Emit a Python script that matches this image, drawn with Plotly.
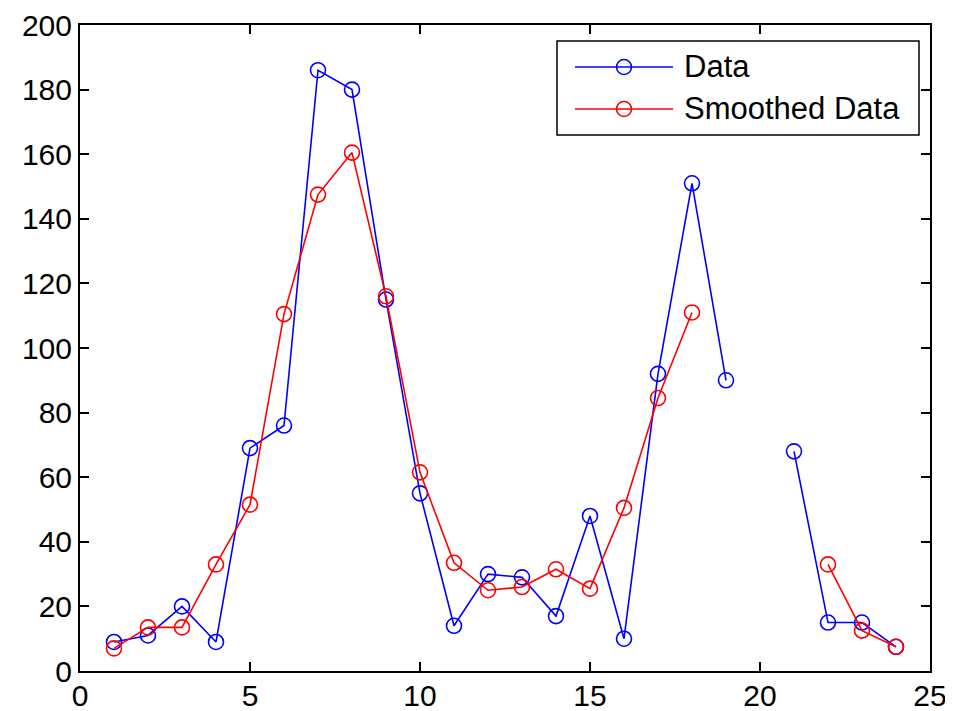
import plotly.graph_objects as go

x_vals = list(range(1, 25))
data_vals = [9, 11, 20, 9, 69, 76, 186, 180, 115, 55, 14, 30, 29, 17, 48, 10, 92, 151, 90, None, 68, 15, 15, 7.5]
smoothed_vals = [7, 13.5, 13.5, 33, 51.5, 110.5, 147.5, 160.5, 116, 61.5, 33.5, 25, 26, 31.5, 25.5, 50.5, 84.5, 111, None, None, None, 33, 12.5, 7.5]
x_ticks = [0, 5, 10, 15, 20, 25]
y_ticks = [0, 20, 40, 60, 80, 100, 120, 140, 160, 180, 200]
series_names = ["Data", "Smoothed Data"]
series_colors = ["#0000ff", "#ff0000"]

FONT = "Liberation Sans, Arial, sans-serif"
OFF = 8  # default page body margin
W, H = 953 - OFF, 711 - OFF
# plot area in window pixels: x 80..930, y 25..671
ML, MT = 80 - OFF, 25 - OFF
MR = W - (930 - OFF)
MB = H - (671 - OFF)
PW, PH = W - ML - MR, H - MT - MB


def px_x(p):
    return (p - OFF - ML) / PW


def px_y(p):
    return (H - MB - (p - OFF)) / PH


fig = go.Figure()
for name, vals, col in zip(series_names, [data_vals, smoothed_vals], series_colors):
    fig.add_trace(go.Scatter(
        x=x_vals, y=vals, name=name, mode="lines+markers",
        line=dict(color=col, width=1.6),
        marker=dict(symbol="circle-open", size=15, color=col, line=dict(width=1.6)),
        connectgaps=False, showlegend=False,
    ))

axis_common = dict(
    showgrid=False, zeroline=False, showline=True, linecolor="black", linewidth=2,
    mirror="ticks", ticks="inside", ticklen=9, tickwidth=1.5, tickcolor="black",
    tickfont=dict(family=FONT, size=30, color="black"), automargin=False,
)
fig.update_xaxes(range=[0, 25], tickvals=x_ticks, ticktext=[str(v) for v in x_ticks],
                 ticklabelstandoff=-3, **axis_common)
fig.update_yaxes(range=[0, 200], tickvals=y_ticks, ticktext=[str(v) for v in y_ticks], **axis_common)

# legend box (MATLAB style) drawn as layout decoration
shapes = [dict(type="rect", xref="paper", yref="paper",
               x0=px_x(557), x1=px_x(919), y0=px_y(135), y1=px_y(41),
               line=dict(color="black", width=1.5), fillcolor="white", layer="above")]
annotations = []
row_py = [67, 109]
for name, col, py in zip(series_names, series_colors, row_py):
    shapes.append(dict(type="line", xref="paper", yref="paper",
                       x0=px_x(575), x1=px_x(673), y0=px_y(py), y1=px_y(py),
                       line=dict(color=col, width=1.6), layer="above"))
    shapes.append(dict(type="circle", xref="paper", yref="paper", xsizemode="pixel", ysizemode="pixel",
                       xanchor=px_x(624), yanchor=px_y(py), x0=-7.5, x1=7.5, y0=-7.5, y1=7.5,
                       line=dict(color=col, width=1.6), fillcolor="rgba(0,0,0,0)", layer="above"))
    annotations.append(dict(xref="paper", yref="paper", x=px_x(682), y=px_y(py),
                            xanchor="left", yanchor="middle", text=name, showarrow=False,
                            font=dict(family=FONT, size=31, color="black")))

fig.update_layout(
    width=W, height=H,
    margin=dict(l=ML, r=MR, t=MT, b=MB),
    paper_bgcolor="white", plot_bgcolor="white",
    showlegend=False, shapes=shapes, annotations=annotations,
)

fig.write_html("out.html")
